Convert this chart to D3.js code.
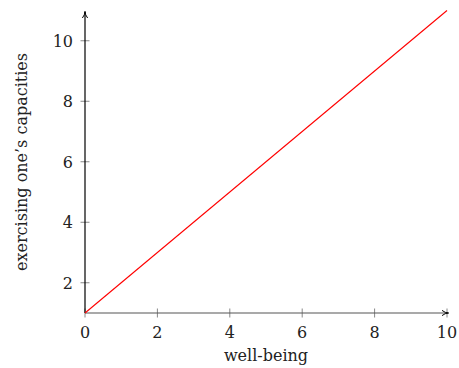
<!DOCTYPE html>
<html><head><meta charset="utf-8">
<script src="https://cdn.jsdelivr.net/npm/d3@7"></script>
<style>body{margin:0;background:#fff}svg{display:block}text{font-family:"DejaVu Serif",serif;fill:#222}</style>
</head><body>
<script>
const xValues = [0, 10];
const yValues = [1, 11];
const xTicks = [0, 2, 4, 6, 8, 10];
const yTicks = [2, 4, 6, 8, 10];
const xLabel = "well-being";
const yLabel = "exercising one’s capacities";

const W = 459, H = 368;
const FS = 16;
const svg = d3.select("body").append("svg").attr("width", W).attr("height", H);
const x = d3.scaleLinear().domain([0, 10]).range([85, 447]);
const y = d3.scaleLinear().domain([1, 11]).range([313, 10.5]);

// ticks
svg.selectAll(".xt").data(xTicks).enter().append("line")
  .attr("x1", d => x(d)).attr("x2", d => x(d))
  .attr("y1", y(1) - 4.5).attr("y2", y(1) + 4.5)
  .attr("stroke", "#888").attr("stroke-width", 1);
svg.selectAll(".yt").data(yTicks).enter().append("line")
  .attr("y1", d => y(d)).attr("y2", d => y(d))
  .attr("x1", x(0) - 4.5).attr("x2", x(0) + 4.5)
  .attr("stroke", "#888").attr("stroke-width", 1);

// axes lines
svg.append("defs").append("marker").attr("id", "arr")
  .attr("viewBox", "0 0 10 10").attr("refX", 9).attr("refY", 5)
  .attr("markerWidth", 7).attr("markerHeight", 7).attr("orient", "auto")
  .attr("markerUnits", "userSpaceOnUse")
  .append("path").attr("d", "M0,1 Q5,5 10,5 Q5,5 0,9").attr("fill", "none").attr("stroke", "#000").attr("stroke-width", 1.4);

svg.append("line").attr("x1", x(0)).attr("x2", x(10) + 1)
  .attr("y1", y(1)).attr("y2", y(1))
  .attr("stroke", "#555").attr("stroke-width", 1.2).attr("marker-end", "url(#arr)");
svg.append("line").attr("x1", x(0)).attr("x2", x(0))
  .attr("y1", y(1)).attr("y2", 12)
  .attr("stroke", "#000").attr("stroke-width", 1.2).attr("marker-end", "url(#arr)");

// tick labels
svg.selectAll(".xl").data(xTicks).enter().append("text")
  .attr("x", d => x(d)).attr("y", 338)
  .attr("text-anchor", "middle").attr("font-size", FS).text(d => d);
svg.selectAll(".yl").data(yTicks).enter().append("text")
  .attr("x", 73).attr("y", d => y(d) + 6)
  .attr("text-anchor", "end").attr("font-size", FS).text(d => d);

// data line
svg.append("path").datum(xValues.map((v, i) => [v, yValues[i]]))
  .attr("d", d3.line().x(d => x(d[0])).y(d => y(d[1])))
  .attr("fill", "none").attr("stroke", "#ff0000").attr("stroke-width", 1.1);

// axis titles
svg.append("text").attr("x", 266).attr("y", 361)
  .attr("text-anchor", "middle").attr("font-size", FS).text(xLabel);
svg.append("text").attr("transform", `translate(27,${162}) rotate(-90)`)
  .attr("text-anchor", "middle").attr("font-size", FS).text(yLabel);
</script>
</body></html>
